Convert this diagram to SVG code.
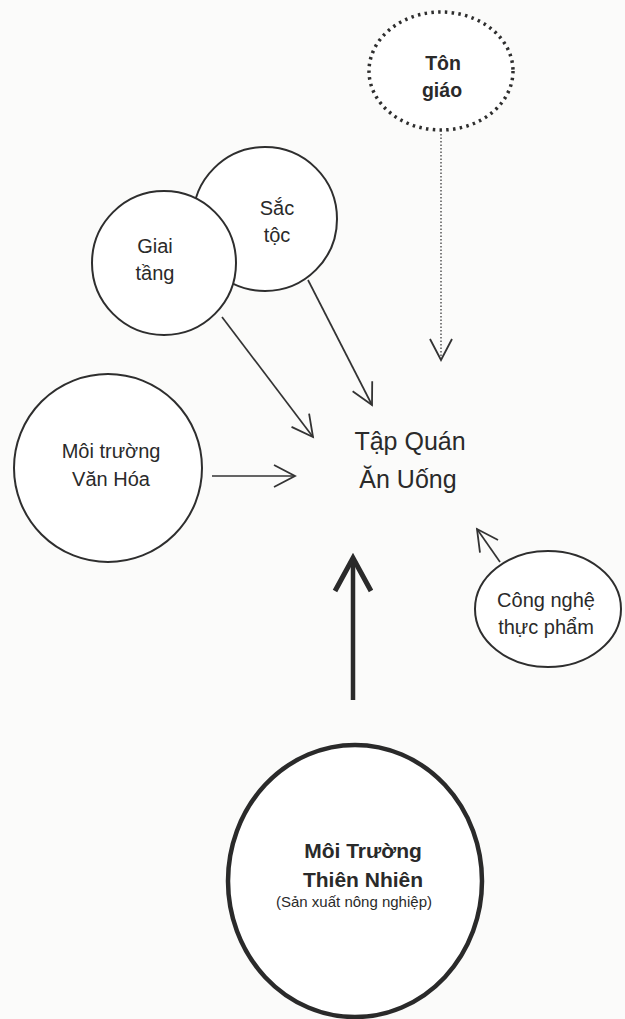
<svg xmlns="http://www.w3.org/2000/svg" width="625" height="1019" viewBox="0 0 625 1019">
  <defs>
    <style>
      .node { fill: #ffffff; stroke: #2e2e2e; stroke-width: 2; }
      .dotted { fill: #ffffff; stroke: #2e2e2e; stroke-width: 3.5; stroke-dasharray: 2.5 4.3; }
      .thick { fill: #ffffff; stroke: #2a2a2a; stroke-width: 4.5; }
      .lbl { font-family: "Liberation Sans", Arial, sans-serif; fill: #2a2a2a; text-anchor: middle; }
      .bold { font-weight: bold; }
      .edge { fill: none; stroke: #333333; stroke-width: 1.7; }
      .edge-dot { fill: none; stroke: #555555; stroke-width: 1.5; stroke-dasharray: 1.5 2; }
      .edge-thick { fill: none; stroke: #2a2a2a; stroke-width: 4.5; }
    </style>
    <marker id="open" viewBox="-24 -14 27 28" markerWidth="27" markerHeight="28" refX="0" refY="0" orient="auto" markerUnits="userSpaceOnUse">
      <path d="M-21,-11 L0,0 L-21,11" fill="none" stroke="#333333" stroke-width="1.8" stroke-linejoin="miter"/>
    </marker>
    <marker id="open-big" viewBox="-40 -24 46 48" markerWidth="46" markerHeight="48" refX="0" refY="0" orient="auto" markerUnits="userSpaceOnUse">
      <path d="M-33,-18 L0,0 L-33,18" fill="none" stroke="#2a2a2a" stroke-width="5" stroke-linejoin="miter"/>
    </marker>
  </defs>

  <rect width="625" height="1019" fill="#fbfbfa"/>

  <g id="connectors">
    <line class="edge-dot" x1="441" y1="134" x2="441" y2="360" marker-end="url(#open)"/>
    <line class="edge" x1="222" y1="317" x2="313" y2="437" marker-end="url(#open)"/>
    <line class="edge" x1="308" y1="280" x2="372" y2="405" marker-end="url(#open)"/>
    <line class="edge" x1="212" y1="476" x2="295" y2="476" marker-end="url(#open)"/>
    <line class="edge" x1="500" y1="562" x2="477" y2="529" marker-end="url(#open)"/>
    <line class="edge-thick" x1="353" y1="700" x2="353" y2="558" marker-end="url(#open-big)"/>
  </g>

  <g id="ton-giao">
    <ellipse class="dotted" cx="441" cy="71" rx="72" ry="59"/>
    <text class="lbl bold" x="443" y="70" font-size="19.5">Tôn</text>
    <text class="lbl bold" x="442" y="97" font-size="19.5">giáo</text>
  </g>

  <g id="sac-toc">
    <circle class="node" cx="265" cy="219" r="72"/>
    <text class="lbl" x="277" y="215" font-size="20">Sắc</text>
    <text class="lbl" x="277" y="242" font-size="20">tộc</text>
  </g>

  <g id="giai-tang">
    <circle class="node" cx="164" cy="263" r="72"/>
    <text class="lbl" x="155" y="253" font-size="20">Giai</text>
    <text class="lbl" x="155" y="280" font-size="20">tầng</text>
  </g>

  <g id="moi-truong-van-hoa">
    <circle class="node" cx="108" cy="468" r="94"/>
    <text class="lbl" x="111" y="458" font-size="20">Môi trường</text>
    <text class="lbl" x="111" y="486" font-size="20">Văn Hóa</text>
  </g>

  <g id="tap-quan-an-uong">
    <text class="lbl" x="410" y="450" font-size="25">Tập Quán</text>
    <text class="lbl" x="408" y="488" font-size="25">Ăn Uống</text>
  </g>

  <g id="cong-nghe-thuc-pham">
    <ellipse class="node" cx="548" cy="609" rx="73" ry="58"/>
    <text class="lbl" x="546" y="607" font-size="20">Công nghệ</text>
    <text class="lbl" x="546" y="634" font-size="20">thực phẩm</text>
  </g>

  <g id="moi-truong-thien-nhien">
    <ellipse class="thick" cx="355" cy="881" rx="127" ry="136"/>
    <text class="lbl bold" x="363" y="858" font-size="21">Môi Trường</text>
    <text class="lbl bold" x="363" y="887" font-size="21">Thiên Nhiên</text>
    <text class="lbl" x="354" y="907" font-size="15">(Sản xuất nông nghiệp)</text>
  </g>
</svg>
